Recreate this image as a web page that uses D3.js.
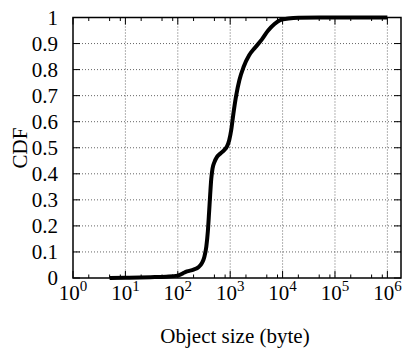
<!DOCTYPE html>
<html>
<head>
<meta charset="utf-8">
<script src="https://cdn.jsdelivr.net/npm/d3@7"></script>
<style>
  body { margin: 0; background: #fff; }
</style>
</head>
<body>
<div id="chart"></div>
<script>
// object size (bytes) and cumulative fraction
const sizes = [5, 10, 30, 60, 100, 125, 150, 200, 250, 290, 320, 350, 375, 395, 415, 435, 460, 500, 560, 650, 760, 870, 960, 1050, 1150, 1300, 1500, 1800, 2300, 3000, 4000, 5300, 7000, 9000, 13000, 20000, 50000, 1000000];
const cdf = [0, 0.001, 0.003, 0.005, 0.009, 0.018, 0.025, 0.032, 0.042, 0.058, 0.08, 0.12, 0.18, 0.25, 0.32, 0.38, 0.42, 0.445, 0.465, 0.478, 0.49, 0.505, 0.53, 0.57, 0.63, 0.70, 0.76, 0.81, 0.855, 0.885, 0.915, 0.95, 0.975, 0.99, 0.996, 0.999, 1, 1];

const xTickExps = [0, 1, 2, 3, 4, 5, 6];
const minorMult = [2, 5, 8];
const yTicks = [0, 0.1, 0.2, 0.3, 0.4, 0.5, 0.6, 0.7, 0.8, 0.9, 1];

const width = 404;
const height = 348;
const margin = { top: 17.5, right: 3, bottom: 70, left: 73 };
const w = width - margin.left - margin.right;
const h = height - margin.top - margin.bottom;
const font = 'Liberation Serif';

const svg = d3.select('#chart')
  .append('svg')
  .attr('width', width)
  .attr('height', height)
  .attr('font-family', font);

const g = svg.append('g')
  .attr('transform', `translate(${margin.left},${margin.top})`);

const x = d3.scaleLog()
  .domain([1, Math.pow(10, 6.26)])
  .range([0, w]);

const y = d3.scaleLinear()
  .domain([0, 1])
  .range([h, 0]);

// dotted grid
const grid = g.append('g')
  .attr('stroke', '#666')
  .attr('stroke-width', 1)
  .attr('stroke-dasharray', '1,2');

grid.selectAll('line.gx')
  .data(xTickExps.filter(e => e > 0))
  .enter()
  .append('line')
  .attr('x1', e => x(Math.pow(10, e)))
  .attr('x2', e => x(Math.pow(10, e)))
  .attr('y1', 0)
  .attr('y2', h);

grid.selectAll('line.gy')
  .data(yTicks.filter(v => v > 0 && v < 1))
  .enter()
  .append('line')
  .attr('x1', 0)
  .attr('x2', w)
  .attr('y1', d => y(d))
  .attr('y2', d => y(d));

// ticks on all four sides, pointing inward
const ticks = g.append('g').attr('stroke', '#000').attr('stroke-width', 1);
const minors = [];
xTickExps.forEach(e => minorMult.forEach(m => {
  const v = m * Math.pow(10, e);
  if (v < x.domain()[1]) minors.push(v);
}));

xTickExps.forEach(e => {
  const px = x(Math.pow(10, e));
  ticks.append('line').attr('x1', px).attr('x2', px).attr('y1', h).attr('y2', h - 7);
  ticks.append('line').attr('x1', px).attr('x2', px).attr('y1', 0).attr('y2', 7);
});
minors.forEach(v => {
  const px = x(v);
  ticks.append('line').attr('x1', px).attr('x2', px).attr('y1', h).attr('y2', h - 3.5);
  ticks.append('line').attr('x1', px).attr('x2', px).attr('y1', 0).attr('y2', 3.5);
});
yTicks.forEach(v => {
  ticks.append('line').attr('x1', 0).attr('x2', 7).attr('y1', y(v)).attr('y2', y(v));
  ticks.append('line').attr('x1', w).attr('x2', w - 7).attr('y1', y(v)).attr('y2', y(v));
});

// x tick labels 10^n
xTickExps.forEach(e => {
  const t = g.append('text')
    .attr('x', x(Math.pow(10, e)))
    .attr('y', h + 22)
    .attr('text-anchor', 'middle')
    .attr('font-family', font)
    .attr('font-size', 21);
  t.append('tspan').text('10');
  t.append('tspan').attr('dy', -9).attr('font-size', 15).text(e);
});

// y tick labels
g.selectAll('text.yl')
  .data(yTicks)
  .enter()
  .append('text')
  .attr('x', -15)
  .attr('y', d => y(d) + 7)
  .attr('text-anchor', 'end')
  .attr('font-family', font)
  .attr('font-size', 21)
  .text(d => d3.format('~g')(d));

// border
g.append('rect')
  .attr('width', w)
  .attr('height', h)
  .attr('fill', 'none')
  .attr('stroke', '#000')
  .attr('stroke-width', 1.5);

// CDF curve
const line = d3.line()
  .x(d => x(d[0]))
  .y(d => y(d[1]))
  .curve(d3.curveMonotoneX);

g.append('path')
  .datum(sizes.map((s, i) => [s, cdf[i]]))
  .attr('fill', 'none')
  .attr('stroke', '#000')
  .attr('stroke-width', 4)
  .attr('stroke-linejoin', 'round')
  .attr('d', line);

// axis labels
svg.append('text')
  .attr('x', 235)
  .attr('y', 343)
  .attr('text-anchor', 'middle')
  .attr('font-family', font)
  .attr('font-size', 21)
  .text('Object size (byte)');

svg.append('text')
  .attr('transform', 'translate(27,148) rotate(-90)')
  .attr('text-anchor', 'middle')
  .attr('font-family', font)
  .attr('font-size', 21)
  .text('CDF');
</script>
</body>
</html>
